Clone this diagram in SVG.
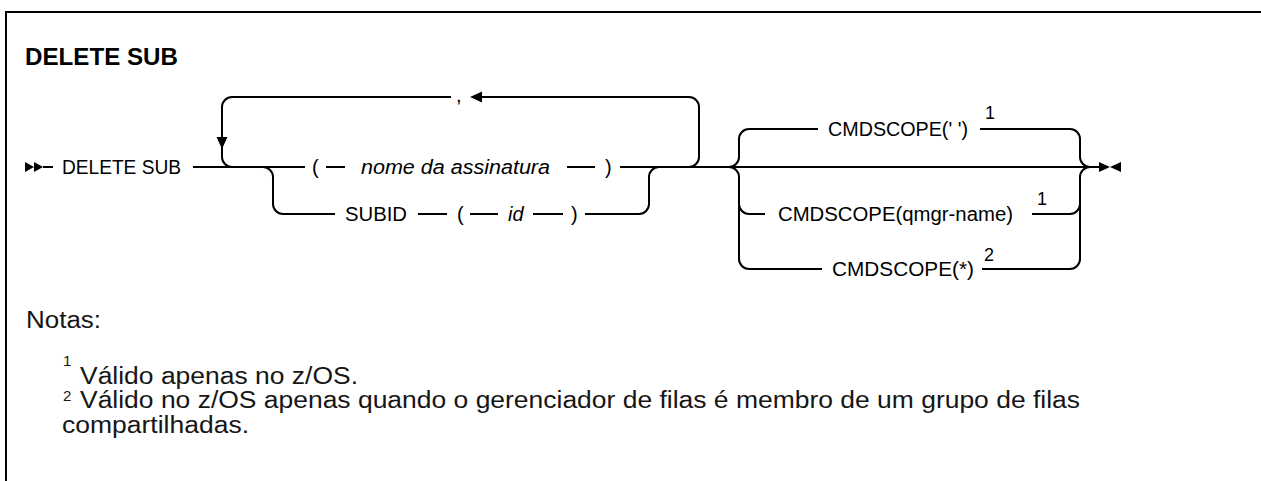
<svg xmlns="http://www.w3.org/2000/svg" width="1261" height="481" viewBox="0 0 1261 481">
<style>
.ln{fill:none;stroke:#000;stroke-width:2}
.t{font-family:"Liberation Sans",Arial,sans-serif;font-size:20px;fill:#000}
.i{font-style:italic}
.sup{font-family:"Liberation Sans",Arial,sans-serif;font-size:18px;fill:#000}
.title{font-family:"Liberation Sans",Arial,sans-serif;font-size:23px;font-weight:bold;fill:#000}
.note{font-family:"Liberation Sans",Arial,sans-serif;font-size:23px;fill:#161616}
.nsup{font-family:"Liberation Sans",Arial,sans-serif;font-size:15px;fill:#161616}
.ah{fill:#000}
</style>
<rect width="1261" height="481" fill="#fff"/>
<g id="frame"><path d="M6 481V12H1261" fill="none" stroke="#000" stroke-width="2"/></g>
<g id="title"><text class="title" x="25" y="65" textLength="153" lengthAdjust="spacingAndGlyphs">DELETE SUB</text></g>
<g id="start">
<polygon class="ah" points="25,162 25,172 34,167"/>
<polygon class="ah" points="34,162 34,172 43,167"/>
</g>
<g id="n-delete"><text class="t" x="62" y="174" textLength="119" lengthAdjust="spacingAndGlyphs">DELETE SUB</text></g>
<g id="n-nome">
<text class="t" x="312" y="174">(</text>
<text class="t i" x="361" y="174" textLength="189" lengthAdjust="spacingAndGlyphs">nome da assinatura</text>
<text class="t" x="605" y="174">)</text>
</g>
<g id="n-subid">
<text class="t" x="345" y="221" textLength="62" lengthAdjust="spacingAndGlyphs">SUBID</text>
<text class="t" x="457" y="221">(</text>
<text class="t i" x="508" y="221">id</text>
<text class="t" x="571" y="221">)</text>
</g>
<g id="n-comma"><text class="t" x="456" y="102">,</text></g>
<g id="n-cmd1">
<text class="t" x="828" y="136" textLength="140" lengthAdjust="spacingAndGlyphs">CMDSCOPE(' ')</text>
<text class="sup" x="985" y="119">1</text>
</g>
<g id="n-cmd2">
<text class="t" x="778" y="221" textLength="235" lengthAdjust="spacingAndGlyphs">CMDSCOPE(qmgr-name)</text>
<text class="sup" x="1037" y="205">1</text>
</g>
<g id="n-cmd3">
<text class="t" x="832" y="276" textLength="142" lengthAdjust="spacingAndGlyphs">CMDSCOPE(*)</text>
<text class="sup" x="984" y="261">2</text>
</g>
<g id="end">
<polygon class="ah" points="1099,162 1099,172 1110,167"/>
<polygon class="ah" points="1121,162 1121,172 1110,167"/>
</g>
<g id="connectors">
<path class="ln" d="M43 167H53"/>
<path class="ln" d="M193 167H305"/>
<path class="ln" d="M326 167H345M567 167H595M620 167H1099"/>
<path class="ln" d="M689 167A10 10 0 0 0 699 157V107A10 10 0 0 0 689 97H482"/>
<polygon class="ah" points="470,97 482,91.5 482,102.5"/>
<path class="ln" d="M451 97H232A10 10 0 0 0 222 107V157A10 10 0 0 0 232 167"/>
<polygon class="ah" points="216.5,137 227.5,137 222,149"/>
<path class="ln" d="M263 167A10 10 0 0 1 273 177V204A10 10 0 0 0 283 214H335"/>
<path class="ln" d="M418 214H447M470 214H498M533 214H563"/>
<path class="ln" d="M585 214H639A10 10 0 0 0 649 204V177A10 10 0 0 1 659 167"/>
<path class="ln" d="M729 167A10 10 0 0 0 739 157V139A10 10 0 0 1 749 129H818"/>
<path class="ln" d="M729 167A10 10 0 0 1 739 177V259A10 10 0 0 0 749 269H822"/>
<path class="ln" d="M739 204A10 10 0 0 0 749 214H765"/>
<path class="ln" d="M980 129H1070A10 10 0 0 1 1080 139V157A10 10 0 0 0 1090 167"/>
<path class="ln" d="M982 269H1070A10 10 0 0 0 1080 259V177A10 10 0 0 1 1090 167"/>
<path class="ln" d="M1032 214H1070A10 10 0 0 0 1080 204"/>
</g>
<g id="notes">
<text class="note" x="26" y="328" textLength="75" lengthAdjust="spacingAndGlyphs">Notas:</text>
<text class="nsup" x="63" y="366">1</text>
<text class="note" x="80" y="384" textLength="278" lengthAdjust="spacingAndGlyphs">Válido apenas no z/OS.</text>
<text class="nsup" x="63" y="401">2</text>
<text class="note" x="80" y="408" textLength="1000" lengthAdjust="spacingAndGlyphs">Válido no z/OS apenas quando o gerenciador de filas é membro de um grupo de filas</text>
<text class="note" x="62" y="433" textLength="187" lengthAdjust="spacingAndGlyphs">compartilhadas.</text>
</g>
</svg>
